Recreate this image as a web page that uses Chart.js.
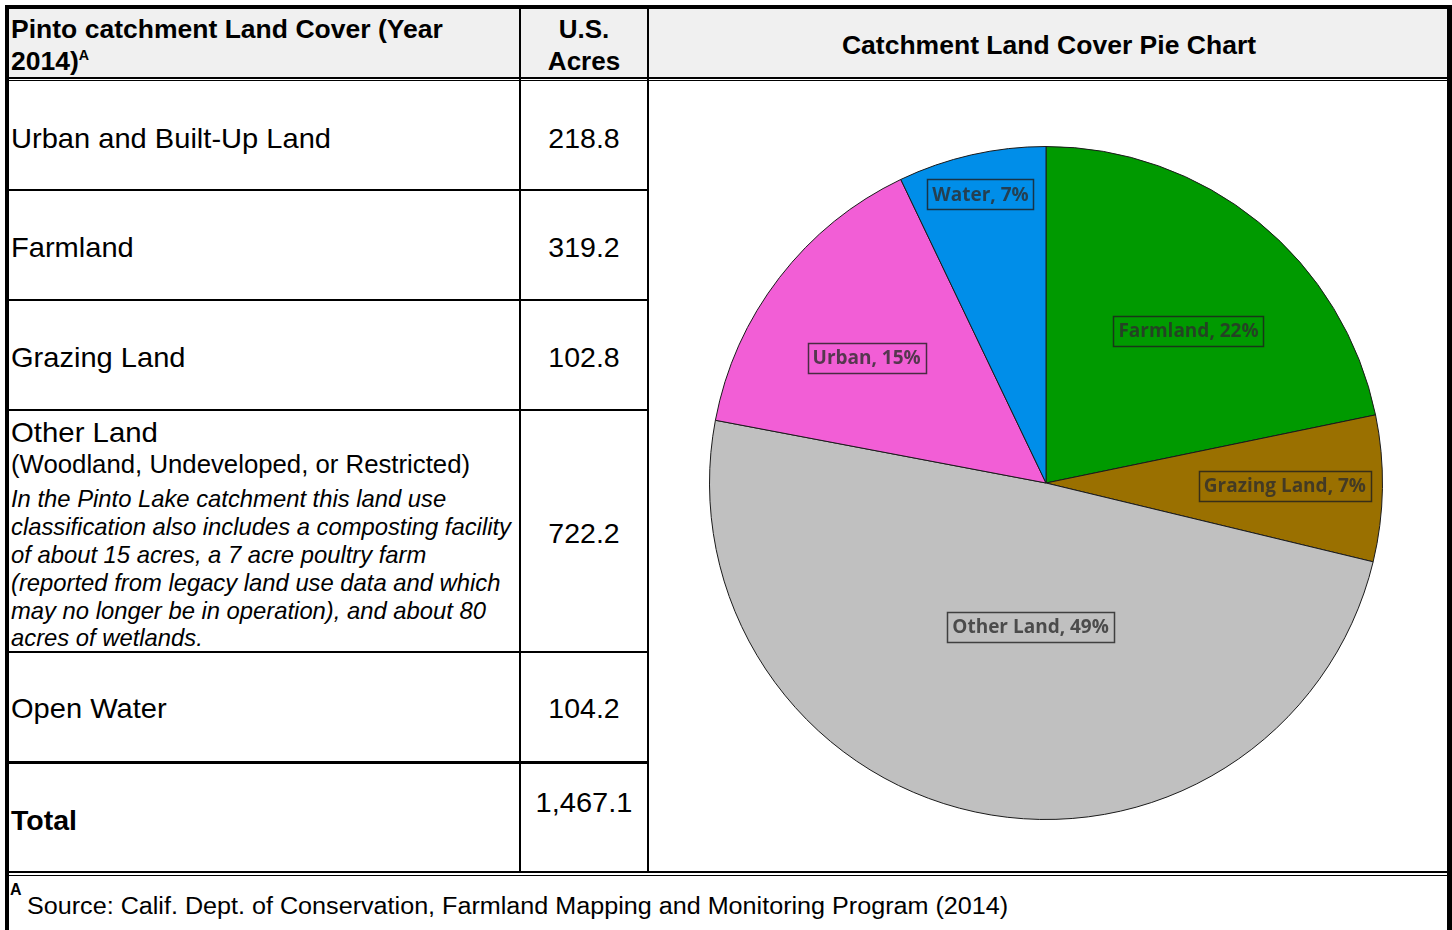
<!DOCTYPE html>
<html>
<head>
<meta charset="utf-8">
<script src="https://cdn.jsdelivr.net/npm/chart.js@4.4.1/dist/chart.umd.min.js"></script>
<style>
  body { margin: 0; background: #fff; width: 1452px; height: 930px; overflow: hidden; position: relative;
         font-family: "Liberation Sans", Arial, sans-serif; color: #000; }
  .ln { position: absolute; background: #000; }
  .tx { position: absolute; white-space: nowrap; line-height: 1; }
  #pieBox { position: absolute; left: 706px; top: 143px; width: 680px; height: 680px; }
</style>
</head>
<body>
<div id="page"></div>
<div id="pieBox"><canvas id="pieChart"></canvas></div>
<script>
// table rows (left column) and their acreage
const categories = ['Urban and Built-Up Land', 'Farmland', 'Grazing Land', 'Other Land', 'Open Water'];
const acres = [218.8, 319.2, 102.8, 722.2, 104.2];
const totalAcres = 1467.1;

// pie slices, clockwise from the top
const pieLabels = ['Farmland', 'Grazing Land', 'Other Land', 'Urban', 'Water'];
const pieValues = [319.2, 102.8, 722.2, 218.8, 104.2];
const pieColors = ['#009a00', '#9a7000', '#c0c0c0', '#f25ed6', '#008ee9'];

const page = document.getElementById('page');

// small helpers for the table
function line (x, y, w, h, color) {
    const d = document.createElement('div');
    d.className = 'ln';
    d.style.cssText = `left:${x}px;top:${y}px;width:${w}px;height:${h}px;` + (color ? `background:${color};` : '');
    page.appendChild(d);
}
function text (html, x, cy, size, extra, sx, center) {
    const d = document.createElement('div');
    d.className = 'tx';
    d.innerHTML = html;
    let css = `top:${cy - size * 0.49}px;font-size:${size}px;transform:scaleX(${sx});` + (extra || '');
    if (center) {
        css += `left:${x - 300}px;width:600px;text-align:center;transform-origin:50% 50%;`;
    } else {
        css += `left:${x}px;transform-origin:0 50%;`;
    }
    d.style.cssText = css;
    page.appendChild(d);
}

// header background + borders
line(9, 9, 1438, 68, '#f0f0f0');
line(5, 5, 1447, 4);
line(5, 5, 4, 925);
line(1447, 5, 5, 925);
line(9, 77, 1438, 2);
line(9, 80, 1438, 1);
line(519, 9, 2, 863);
line(647, 9, 2, 863);
[189, 299, 409, 651].forEach(y => line(9, y, 638, 2));
line(9, 761, 638, 3);
line(9, 871, 1438, 2);
line(9, 875, 1438, 1);

// header text
const hb = 'font-weight:bold;';
text('Pinto catchment Land Cover (Year', 11, 29, 26, hb, 1.02);
text('2014)<sup style="font-size:14px;vertical-align:10px">A</sup>', 11, 61, 26, hb, 1.02);
text('U.S.', 584, 29, 26, hb, 1.0, true);
text('Acres', 584, 61, 26, hb, 1.0, true);
text('Catchment Land Cover Pie Chart', 1049, 45, 26, hb, 1.02, true);

// body rows
const rowCenters = [138, 247, 357, 533, 708];
categories.forEach(function (name, i) {
    if (name !== 'Other Land') {
        text(name, 11, rowCenters[i], 28.5, '', 1.02);
    }
    text(acres[i].toFixed(1), 584, rowCenters[i], 28.5, '', 1.0, true);
});
text('Other Land', 11, 432, 28.5, '', 1.03);
text('(Woodland, Undeveloped, or Restricted)', 11, 464, 25.5, '', 1.01);
const note = [
    'In the Pinto Lake catchment this land use',
    'classification also includes a composting facility',
    'of about 15 acres, a 7 acre poultry farm',
    '(reported from legacy land use data and which',
    'may no longer be in operation), and about 80',
    'acres of wetlands.'
];
note.forEach((t, i) => text(t, 11, 499 + i * 27.8, 23.8, 'font-style:italic;', 1.0));

text('Total', 11, 820, 28.5, hb, 1.0);
text(totalAcres.toLocaleString('en-US', { minimumFractionDigits: 1 }), 584, 802, 28.5, '', 1.02, true);

// footnote
text('A', 10, 890, 16, hb, 1.0);
text('Source: Calif. Dept. of Conservation, Farmland Mapping and Monitoring Program (2014)', 27, 907, 23.5, '', 1.07);

// boxed percentage labels inside the slices
const boxLabels = {
    id: 'boxLabels',
    afterDatasetsDraw (chart, args, opts) {
        const ctx = chart.ctx;
        const meta = chart.getDatasetMeta(0);
        const total = pieValues.reduce((a, b) => a + b, 0);
        ctx.save();
        ctx.font = 'bold 19px "Open Sans", sans-serif';
        ctx.textAlign = 'center';
        ctx.textBaseline = 'middle';
        meta.data.forEach(function (arc, i) {
            const p = arc.getProps(['x', 'y', 'startAngle', 'endAngle', 'outerRadius'], true);
            const ang = p.startAngle + (p.endAngle - p.startAngle) * opts.along[i];
            const r = p.outerRadius * opts.radius[i];
            const cx = p.x + Math.cos(ang) * r;
            const cy = p.y + Math.sin(ang) * r;
            const label = pieLabels[i] + ', ' + Math.round(pieValues[i] / total * 100) + '%';
            const w = ctx.measureText(label).width + 10;
            const h = 30;
            ctx.strokeStyle = 'rgba(30,30,30,0.8)';
            ctx.lineWidth = 1.5;
            ctx.strokeRect(Math.round(cx - w / 2) + 0.5, Math.round(cy - h / 2) + 0.5, Math.round(w), h);
            ctx.fillStyle = 'rgba(45,45,45,0.8)';
            ctx.fillText(label, cx, cy + 1);
        });
        ctx.restore();
    }
};

const myChart = new Chart(document.getElementById('pieChart'), {
    type: 'pie',
    data: {
        labels: pieLabels,
        datasets: [{
            data: pieValues,
            backgroundColor: pieColors,
            borderColor: '#1a1a1a',
            borderWidth: 1
        }]
    },
    options: {
        responsive: true,
        maintainAspectRatio: false,
        animation: false,
        layout: { padding: 3 },
        plugins: {
            legend: { display: false },
            tooltip: { enabled: false },
            boxLabels: {
                radius: [0.62, 0.71, 0.43, 0.65, 0.88],
                along: [0.55, 0.49, 0.466, 0.45, 0.5]
            }
        }
    },
    plugins: [boxLabels]
});
</script>
</body>
</html>
